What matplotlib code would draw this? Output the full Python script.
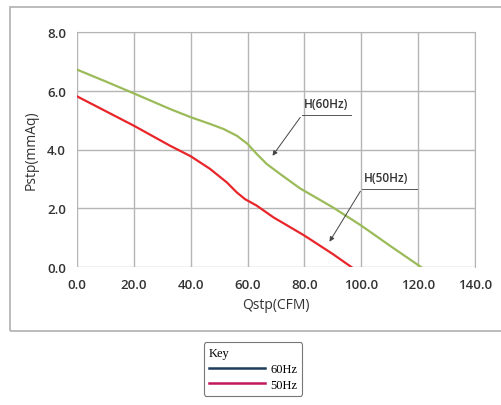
import matplotlib.pyplot as plt
from matplotlib.lines import Line2D
from matplotlib.patches import Rectangle

# curve readings (Qstp in CFM, Pstp in mmAq)
q_60 = [0, 10, 20, 32.7, 40, 46.8, 51.5, 56.2, 60, 63.2, 66.7, 71.4, 78.4, 90, 100, 110, 121]
p_60 = [6.72, 6.32, 5.91, 5.38, 5.10, 4.87, 4.70, 4.47, 4.19, 3.85, 3.51, 3.17, 2.68, 2.03, 1.41, 0.73, 0.0]
q_50 = [0, 10, 20, 32.7, 40, 46.8, 52.7, 56.2, 59.1, 63.2, 69.1, 80, 90, 96.5]
p_50 = [5.81, 5.31, 4.81, 4.13, 3.77, 3.34, 2.88, 2.54, 2.31, 2.09, 1.69, 1.07, 0.44, 0.0]

x_ticks = [0, 20, 40, 60, 80, 100, 120, 140]
y_ticks = [0, 2, 4, 6, 8]
key_labels = ["60Hz", "50Hz"]

plt.rcParams['font.family'] = ['Open Sans', 'DejaVu Sans']

fig = plt.figure(figsize=(5.02, 4.06), dpi=100)
# outer frame around the chart
fig.patches.append(Rectangle((10 / 502, 1 - 332 / 406), 495 / 502, 324 / 406,
                             transform=fig.transFigure, fill=False,
                             edgecolor='#b0b0b0', linewidth=1.2))

ax = fig.add_axes([77 / 502, 1 - 268 / 406, 398 / 502, 235 / 406])
ax.plot(q_60, p_60, color='#9bbb59', linewidth=1.6)
ax.plot(q_50, p_50, color='#e8262a', linewidth=1.6)

ax.set_xlim(0, 140)
ax.set_ylim(0, 8)
ax.set_xticks(x_ticks)
ax.set_yticks(y_ticks)
ax.set_xticklabels([f"{v:.1f}" for v in x_ticks])
ax.set_yticklabels([f"{v:.1f}" for v in y_ticks])
ax.tick_params(length=0, labelsize=9.5, colors='#333333', pad=8)
for t in ax.get_xticklabels() + ax.get_yticklabels():
    t.set_fontweight('semibold')
ax.grid(True, color='#b5b5b5', linewidth=1.0)
for s in ax.spines.values():
    s.set_color('#b5b5b5')
ax.spines['left'].set_visible(False)
ax.spines['bottom'].set_visible(False)
ax.set_xlabel("Qstp(CFM)", fontsize=10, color='#333333', labelpad=4)
ax.set_ylabel("Pstp(mmAq)", fontsize=10, color='#333333', labelpad=6)

# callouts
ax.plot([79.1, 96.4], [5.17, 5.17], color='#555555', linewidth=0.7)
ax.annotate("", xy=(68.2, 3.71), xytext=(79.1, 5.17),
            arrowprops=dict(arrowstyle='-|>', color='#444444', lw=0.7, mutation_scale=7))
ax.text(87.5, 5.55, "H(60Hz)", fontsize=8.5, fontweight='semibold', color='#333333',
        ha='center', va='center')
ax.plot([100.2, 119.6], [2.66, 2.66], color='#555555', linewidth=0.7)
ax.annotate("", xy=(88.3, 0.78), xytext=(100.2, 2.66),
            arrowprops=dict(arrowstyle='-|>', color='#444444', lw=0.7, mutation_scale=7))
ax.text(108.8, 3.03, "H(50Hz)", fontsize=8.5, fontweight='semibold', color='#333333',
        ha='center', va='center')

handles = [Line2D([], [], color='#1f3b5c', linewidth=1.8),
           Line2D([], [], color='#c0185a', linewidth=1.8)]
leg = fig.legend(handles, key_labels, loc='center', bbox_to_anchor=(253 / 502, 1 - 370 / 406),
                 title="Key", alignment='left', frameon=True, fancybox=True,
                 prop={'family': 'Liberation Serif', 'size': 9},
                 title_fontproperties={'family': 'Liberation Serif', 'size': 9},
                 handlelength=4.5, handletextpad=0.4, labelspacing=0.3,
                 borderpad=0.4, borderaxespad=0)
leg.get_frame().set_edgecolor('#555555')
leg.get_frame().set_linewidth(0.8)

fig.savefig("out.png", dpi=100)
